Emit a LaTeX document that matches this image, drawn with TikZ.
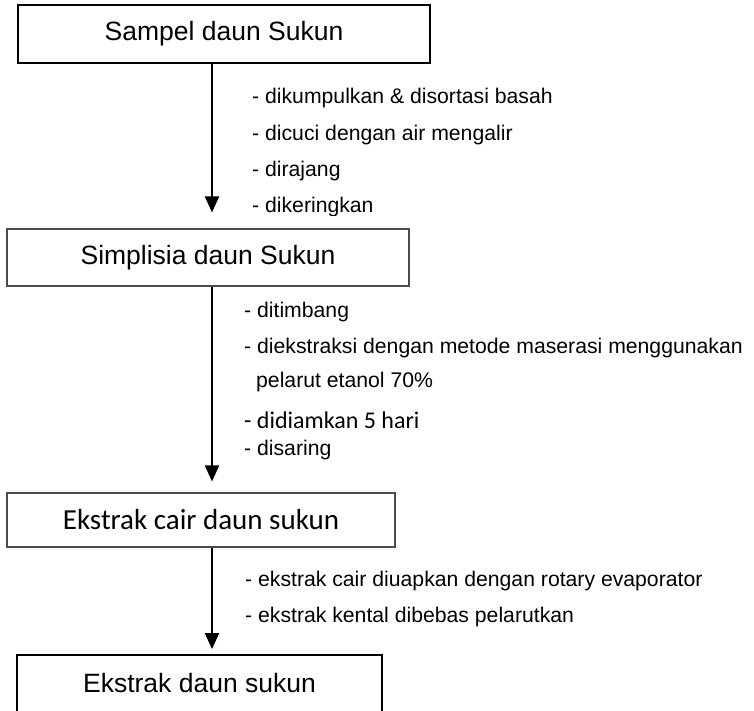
\documentclass[tikz,border=0pt]{standalone}
\usepackage{fontspec}
\setmainfont{Liberation Sans}
\newfontfamily\calibri{Carlito}
\usetikzlibrary{arrows.meta}
\tikzset{
x=1pt, y=-1pt, % one unit is one pixel, y runs downwards
box/.style={draw, line width=1.8pt, inner sep=0pt, font=\fontsize{26.5}{30}\selectfont}, % the stage boxes
greybox/.style={box, draw=black!70, line width=1.1pt}, % the two middle boxes have a lighter frame
note/.style={anchor=base west, inner sep=0pt, font=\fontsize{21.2}{25}\selectfont}, % the steps beside the arrows
flow/.style={-{Triangle[length=16pt, width=14pt]}, line width=2pt}, % the downward arrows
}

\begin{document}
\begin{tikzpicture}
\useasboundingbox (0,0) rectangle (754,711);
\coordinate (spine) at (212,0);

    \node[box, minimum width=412pt, minimum height=58pt] (sampel) at (224,34) {Sampel daun Sukun};
    \node[greybox, minimum width=402pt, minimum height=57pt] (simplisia) at (208,257.5) {Simplisia daun Sukun};
    \node[greybox, minimum width=388pt, minimum height=54pt, font=\calibri\fontsize{29}{34}\selectfont] (cair) at (201,520) {Ekstrak cair daun sukun};
    \node[box, minimum width=365pt, minimum height=57pt] (ekstrak) at (199.5,683.5) {Ekstrak daun sukun};

    \draw[flow, shorten >=16pt] (sampel.south -| spine) -- (simplisia.north -| spine);
    \draw[flow, shorten >=11pt] (simplisia.south -| spine) -- (cair.north -| spine);
    \draw[flow, shorten >=5pt] (cair.south -| spine) -- (ekstrak.north -| spine);

    % steps sampel -> simplisia
    \node[note] (s1) at (252,104) {- dikumpulkan \& disortasi basah};
    \node[note] (s2) at (252,141) {- dicuci dengan air mengalir};
    \node[note] (s3) at (252,177) {- dirajang};
    \begin{scope}
    \clip (0,0) rectangle (754,215.5); % last line is cut off in the original
    \node[note] (s4) at (252,213) {- dikeringkan};
    \end{scope}

    % steps simplisia -> ekstrak cair
    \node[note] (m1) at (244,317) {- ditimbang};
    \node[note] (m2) at (244,353) {- diekstraksi dengan metode maserasi menggunakan};
    \node[note] (m3) at (256,387) {pelarut etanol 70\%};
    \node[note, font=\calibri\fontsize{24}{28}\selectfont] (m4) at (244,428) {- didiamkan 5 hari};
    \node[note] (m5) at (244,455) {- disaring};

    % steps ekstrak cair -> ekstrak
    \node[note] (e1) at (245,586) {- ekstrak cair diuapkan dengan rotary evaporator};
    \node[note] (e2) at (245,622) {- ekstrak kental dibebas pelarutkan};
\end{tikzpicture}
\end{document}
